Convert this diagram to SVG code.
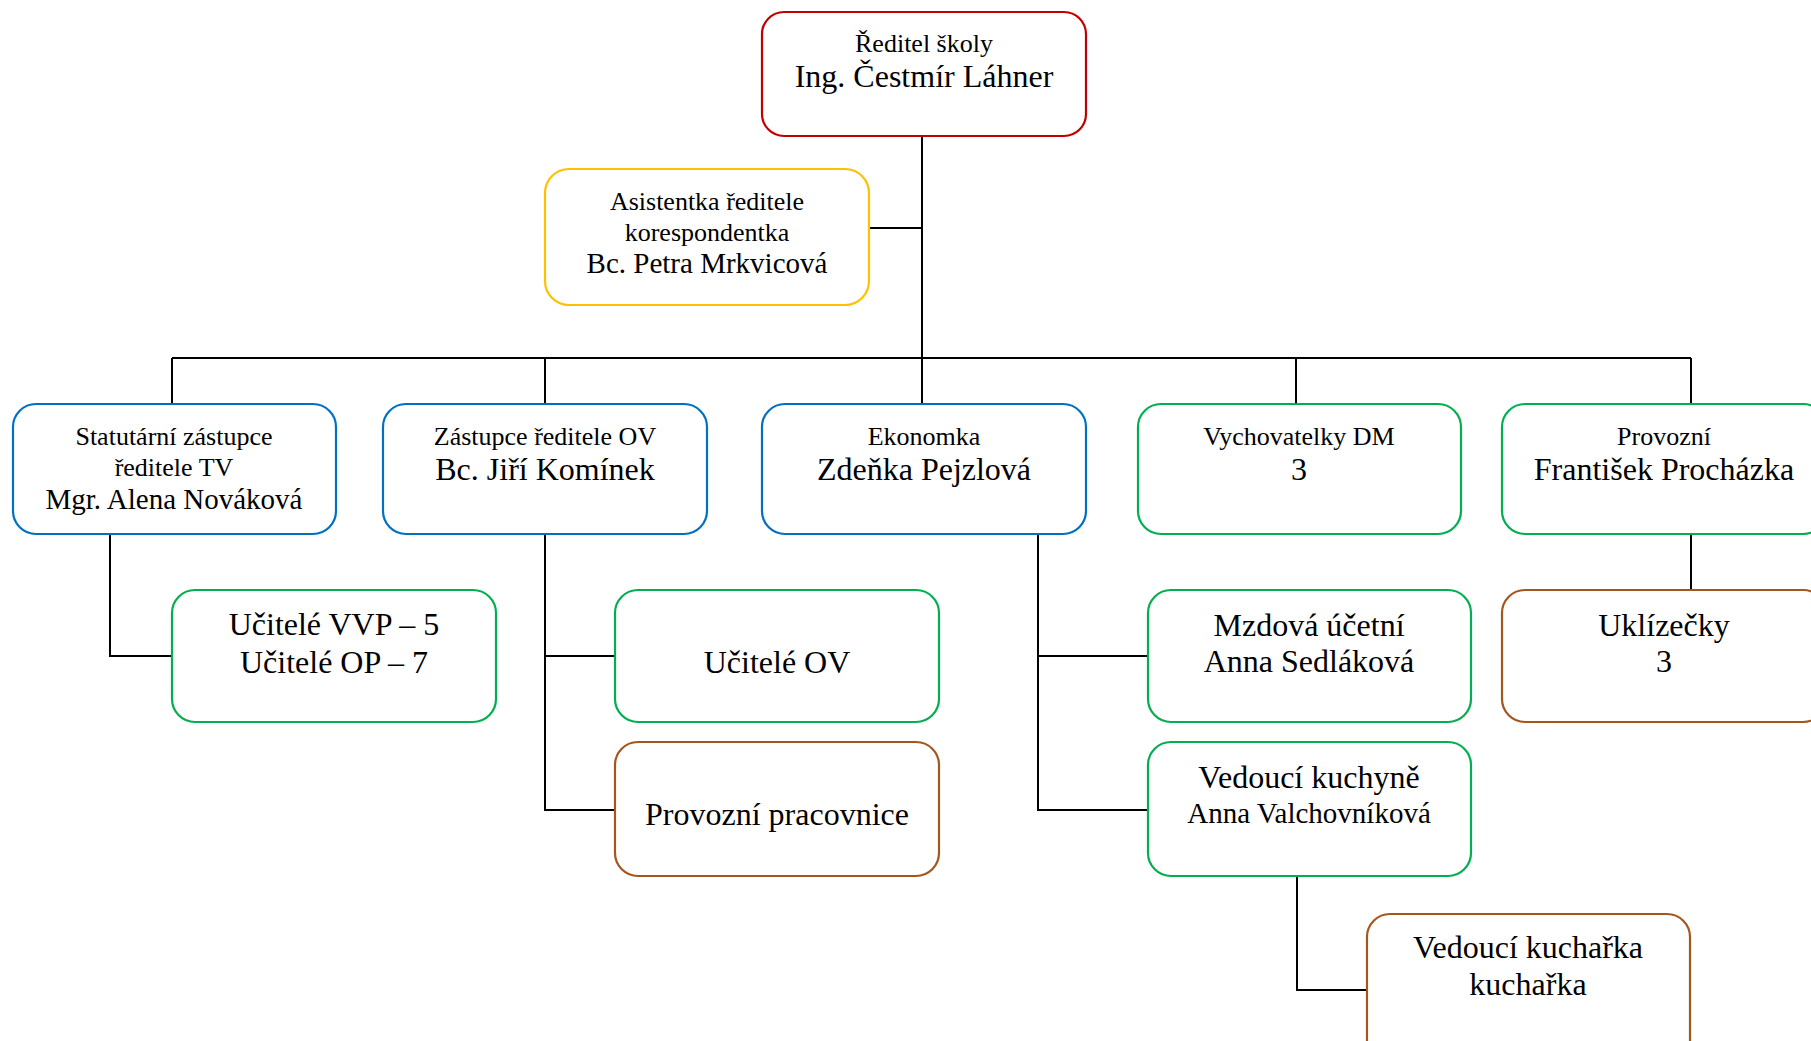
<svg xmlns="http://www.w3.org/2000/svg" width="1811" height="1041" viewBox="0 0 1811 1041">
<style>
.bx{fill:#fff;stroke-width:2.2}
.red{stroke:#C00000}
.yel{stroke:#FFC000}
.blu{stroke:#0070C0}
.grn{stroke:#00B050}
.brn{stroke:#A5561C}
text{font-family:"Liberation Serif","Times New Roman",serif;fill:#000;text-anchor:middle}
.s{font-size:26px}
.m{font-size:29px}
.l{font-size:32px}
#connectors path{fill:none;stroke:#000;stroke-width:2}
</style>
<rect width="1811" height="1041" fill="#fff"/>
<g id="connectors">
<path d="M922 136V404"/>
<path d="M869 228H922"/>
<path d="M172 358H1691"/>
<path d="M172 358V404M545 358V404M1296 358V404M1691 358V404"/>
<path d="M110 534V656H172"/>
<path d="M545 534V810H615M545 656H615"/>
<path d="M1038 534V810H1148M1038 656H1148"/>
<path d="M1297 876V990H1367"/>
<path d="M1691 534V590"/>
</g>
<g id="director">
<rect class="bx red" x="762" y="12" width="324" height="124" rx="22"/>
<text class="s" x="924" y="52">Ředitel školy</text>
<text class="l" x="924" y="87">Ing. Čestmír Láhner</text>
</g>
<g id="assistant">
<rect class="bx yel" x="545" y="169" width="324" height="136" rx="24"/>
<text class="s" x="707" y="210">Asistentka ředitele</text>
<text class="s" x="707" y="241">korespondentka</text>
<text class="m" x="707" y="273">Bc. Petra Mrkvicová</text>
</g>
<g id="statutarni">
<rect class="bx blu" x="13" y="404" width="323" height="130" rx="23"/>
<text class="s" x="174" y="445">Statutární zástupce</text>
<text class="s" x="174" y="476">ředitele TV</text>
<text class="m" x="174" y="509">Mgr. Alena Nováková</text>
</g>
<g id="zastupce-ov">
<rect class="bx blu" x="383" y="404" width="324" height="130" rx="23"/>
<text class="s" x="545" y="445">Zástupce ředitele OV</text>
<text class="l" x="545" y="480">Bc. Jiří Komínek</text>
</g>
<g id="ekonomka">
<rect class="bx blu" x="762" y="404" width="324" height="130" rx="23"/>
<text class="s" x="924" y="445">Ekonomka</text>
<text class="l" x="924" y="480">Zdeňka Pejzlová</text>
</g>
<g id="vychovatelky">
<rect class="bx grn" x="1138" y="404" width="323" height="130" rx="23"/>
<text class="s" x="1299" y="445">Vychovatelky DM</text>
<text class="l" x="1299" y="480">3</text>
</g>
<g id="provozni">
<rect class="bx grn" x="1502" y="404" width="324" height="130" rx="23"/>
<text class="s" x="1664" y="445">Provozní</text>
<text class="l" x="1664" y="480">František Procházka</text>
</g>
<g id="ucitele-vvp">
<rect class="bx grn" x="172" y="590" width="324" height="132" rx="23"/>
<text class="l" x="334" y="635">Učitelé VVP – 5</text>
<text class="l" x="334" y="673">Učitelé OP – 7</text>
</g>
<g id="ucitele-ov">
<rect class="bx grn" x="615" y="590" width="324" height="132" rx="23"/>
<text class="l" x="777" y="673">Učitelé OV</text>
</g>
<g id="provozni-pracovnice">
<rect class="bx brn" x="615" y="742" width="324" height="134" rx="23"/>
<text class="l" x="777" y="825">Provozní pracovnice</text>
</g>
<g id="mzdova">
<rect class="bx grn" x="1148" y="590" width="323" height="132" rx="23"/>
<text class="l" x="1309" y="636">Mzdová účetní</text>
<text class="l" x="1309" y="672">Anna Sedláková</text>
</g>
<g id="vedouci-kuchyne">
<rect class="bx grn" x="1148" y="742" width="323" height="134" rx="23"/>
<text class="l" x="1309" y="788">Vedoucí kuchyně</text>
<text class="m" x="1309" y="823">Anna Valchovníková</text>
</g>
<g id="uklizecky">
<rect class="bx brn" x="1502" y="590" width="324" height="132" rx="23"/>
<text class="l" x="1664" y="636">Uklízečky</text>
<text class="l" x="1664" y="672">3</text>
</g>
<g id="vedouci-kucharka">
<rect class="bx brn" x="1367" y="914" width="323" height="150" rx="23"/>
<text class="l" x="1528" y="958">Vedoucí kuchařka</text>
<text class="l" x="1528" y="995">kuchařka</text>
</g>
</svg>
